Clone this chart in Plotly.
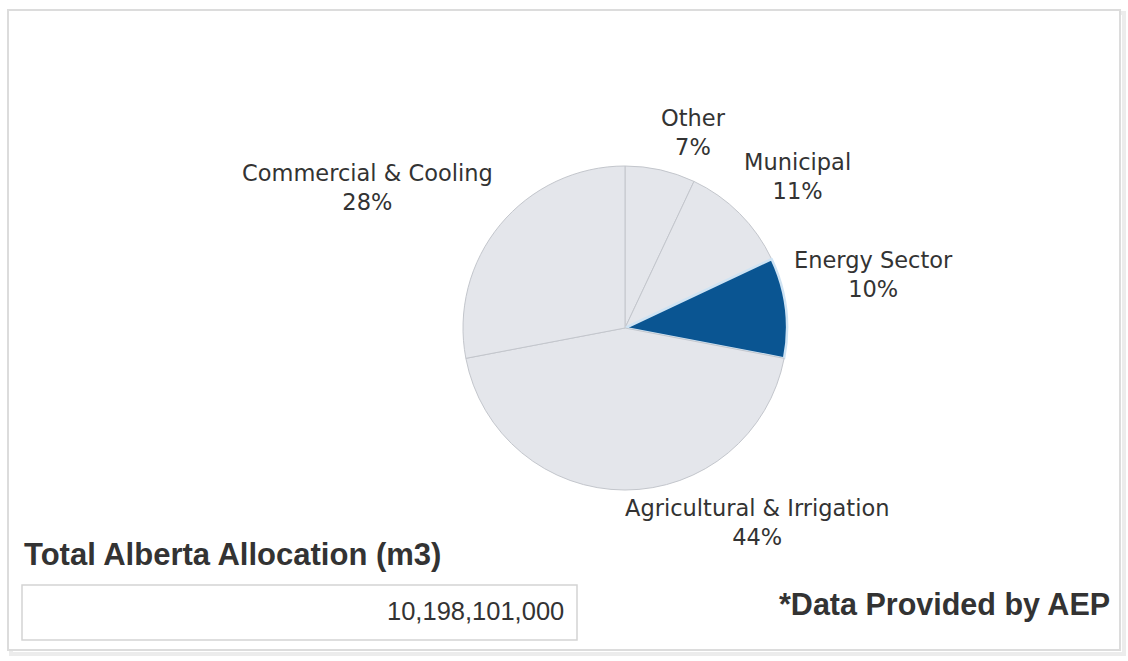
import plotly.graph_objects as go

# Water allocation shares by sector (percent of total), clockwise from 12 o'clock
categories = ["Other", "Municipal", "Energy Sector", "Agricultural & Irrigation", "Commercial & Cooling"]
shares = [7, 11, 10, 44, 28]
total_allocation_m3 = 10198101000
highlight = "Energy Sector"

W, H = 1128, 661

def px(x):
    return x / W

def py(y):
    return 1 - y / H

slice_colors = ["#0a5592" if c == highlight else "#e4e6eb" for c in categories]
line_colors = ["#cfe3f3" if c == highlight else "#c3c6cc" for c in categories]
line_widths = [2.5 if c == highlight else 1 for c in categories]

cx, cy, r = 625, 328, 162

fig = go.Figure(
    go.Pie(
        labels=categories,
        values=shares,
        sort=False,
        direction="clockwise",
        rotation=0,
        textinfo="none",
        marker=dict(colors=slice_colors, line=dict(color=line_colors, width=line_widths)),
        domain=dict(x=[px(cx - r), px(cx + r)], y=[py(cy + r), py(cy - r)]),
        showlegend=False,
        hovertemplate="%{label}: %{value}%<extra></extra>",
    )
)

# label anchor points (pixel centres) for each sector
label_pos = {
    "Other": (693, 133),
    "Municipal": (797, 177),
    "Energy Sector": (873, 274),
    "Agricultural & Irrigation": (757, 522),
    "Commercial & Cooling": (367, 187),
}

annotations = []
for cat, val in zip(categories, shares):
    x, y = label_pos[cat]
    annotations.append(dict(
        x=px(x), y=py(y), xref="paper", yref="paper",
        text=f"{cat}<br>{val}%", showarrow=False, align="center",
        xanchor="center", yanchor="middle",
        font=dict(family="DejaVu Sans", size=22.5, color="#333333"),
    ))

annotations.append(dict(
    x=px(22), y=py(554), xref="paper", yref="paper",
    text="<b>Total Alberta Allocation (m3)</b>", showarrow=False,
    xanchor="left", yanchor="middle",
    font=dict(family="Liberation Sans", size=31, color="#333333"),
))
annotations.append(dict(
    x=px(566), y=py(611), xref="paper", yref="paper",
    text=f"{total_allocation_m3:,}", showarrow=False,
    xanchor="right", yanchor="middle",
    font=dict(family="Liberation Sans", size=25.5, color="#333333"),
))
annotations.append(dict(
    x=px(1112), y=py(604), xref="paper", yref="paper",
    text="<b>*Data Provided by AEP</b>", showarrow=False,
    xanchor="right", yanchor="middle",
    font=dict(family="Liberation Sans", size=30.5, color="#333333"),
))

shapes = [
    # soft drop shadow of the outer panel
    dict(type="rect", xref="paper", yref="paper",
         x0=px(11), x1=px(1124), y0=py(654), y1=py(13),
         line=dict(color="#ececec", width=4), fillcolor="rgba(0,0,0,0)", layer="below"),
    # outer panel
    dict(type="rect", xref="paper", yref="paper",
         x0=px(8), x1=px(1120), y0=py(650), y1=py(10),
         line=dict(color="#dcdcdc", width=2), fillcolor="#ffffff", layer="below"),
    # value box
    dict(type="rect", xref="paper", yref="paper",
         x0=px(22), x1=px(577), y0=py(640), y1=py(585),
         line=dict(color="#d4d4d4", width=1.5), fillcolor="#ffffff", layer="below"),
]

fig.update_layout(
    width=W, height=H,
    margin=dict(l=0, r=0, t=0, b=0),
    paper_bgcolor="#ffffff",
    plot_bgcolor="#ffffff",
    annotations=annotations,
    shapes=shapes,
)

fig.write_html("out.html")
